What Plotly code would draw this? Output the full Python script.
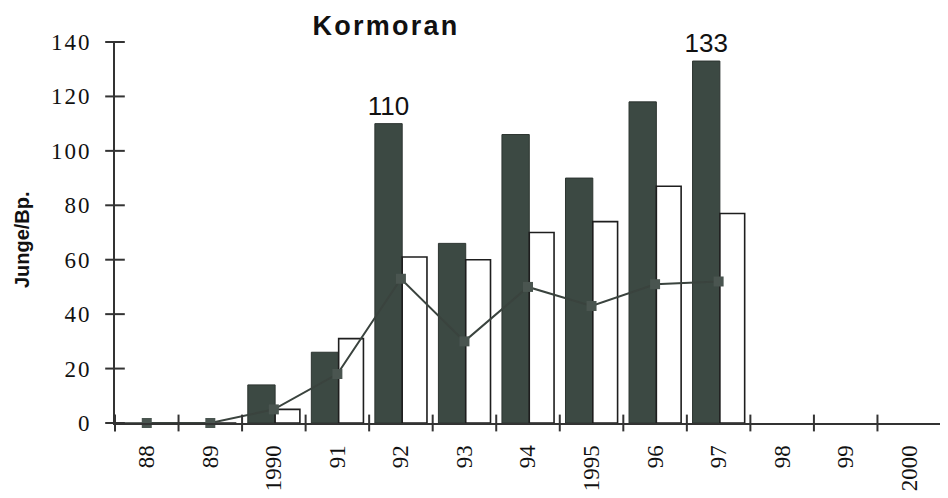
import plotly.graph_objects as go

# ---- data ----
years = ["88", "89", "1990", "91", "92", "93", "94", "1995", "96", "97", "98", "99", "2000"]
dark_vals = [0, 0, 14, 26, 110, 66, 106, 90, 118, 133, None, None, None]
white_vals = [0, 0, 5, 31, 61, 60, 70, 74, 87, 77, None, None, None]
line_vals = [0, 0, 5, 18, 53, 30, 50, 43, 51, 52, None, None, None]
dark_labels = ["", "", "", "", "110", "", "", "", "", "133", "", "", ""]
y_ticks = [0, 20, 40, 60, 80, 100, 120, 140]

HS = "\u200a"  # hair space for the spaced-out look of the labels
y_ticktext = [HS.join(str(v)) for v in y_ticks]

x_idx = list(range(len(years)))
boundaries = [i - 0.5 for i in range(len(years) + 1)]

DARK = "#3c4943"
AXIS = "#333333"

fig = go.Figure()

fig.add_trace(go.Bar(
    x=x_idx, y=dark_vals, offset=-0.41, width=0.43,
    marker=dict(color=DARK, line=dict(color="#2c3430", width=1)),
    text=dark_labels, textposition="outside", constraintext="none",
    textfont=dict(family="Liberation Sans", size=26, color="#111111"),
    cliponaxis=False, showlegend=False, hoverinfo="skip",
))
fig.add_trace(go.Bar(
    x=x_idx, y=white_vals, offset=0.02, width=0.39,
    marker=dict(color="white", line=dict(color="#1e1e1e", width=1.6)),
    showlegend=False, hoverinfo="skip",
))
fig.add_trace(go.Scatter(
    x=x_idx, y=line_vals, mode="lines+markers",
    line=dict(color="#3a433e", width=2),
    marker=dict(symbol="square", size=10, color="#4a5550"),
    showlegend=False, hoverinfo="skip", cliponaxis=False,
))
# tick marks that cross the axis lines (as in the original)
fig.add_trace(go.Scatter(
    x=boundaries, y=[0] * len(boundaries), mode="markers",
    marker=dict(symbol="line-ns", size=12, line=dict(color=AXIS, width=2)),
    showlegend=False, hoverinfo="skip", cliponaxis=False,
))
fig.add_trace(go.Scatter(
    x=[-0.5] * len(y_ticks), y=y_ticks, mode="markers",
    marker=dict(symbol="line-ew", size=14, line=dict(color=AXIS, width=2)),
    showlegend=False, hoverinfo="skip", cliponaxis=False,
))

fig.update_layout(
    width=940, height=490,
    margin=dict(l=107, r=7, t=34, b=75),
    paper_bgcolor="white", plot_bgcolor="white",
    barmode="overlay",
    title=dict(
        text="\u200a".join("Kormoran"),
        font=dict(family="Liberation Sans", size=27, color="#111111", weight="bold"),
        x=0.401, xanchor="center", xref="container",
        y=0.965, yanchor="middle", yref="container",
    ),
    xaxis=dict(
        range=[-0.5, len(years) - 0.5],
        tickmode="array", tickvals=x_idx, ticktext=years,
        ticks="", tickangle=-90,
        tickfont=dict(family="Liberation Serif", size=23, color="#111111"),
        ticklabelstandoff=11,
        showline=True, linecolor=AXIS, linewidth=2,
        showgrid=False, zeroline=False, automargin=False,
    ),
    yaxis=dict(
        range=[0, 140],
        tickmode="array", tickvals=y_ticks, ticktext=y_ticktext,
        ticks="outside", ticklen=7, tickwidth=2, tickcolor="rgba(0,0,0,0)",
        tickfont=dict(family="Liberation Serif", size=23, color="#111111"),
        ticklabelstandoff=12,
        showline=True, linecolor=AXIS, linewidth=2,
        showgrid=False, zeroline=False, automargin=False,
    ),
    annotations=[dict(
        text="Junge/Bp.", textangle=-90,
        xref="paper", yref="paper", x=0, y=0.48,
        xanchor="center", yanchor="middle", xshift=-93, showarrow=False,
        font=dict(family="Liberation Sans", size=20, color="#111111", weight="bold"),
    )],
)

fig.write_html("out.html")
